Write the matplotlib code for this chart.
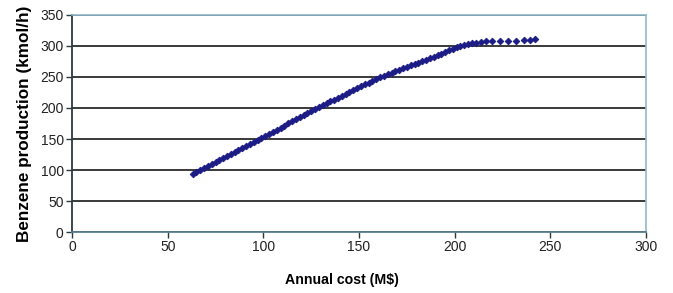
import matplotlib
matplotlib.use("Agg")
import matplotlib.pyplot as plt

annual_cost = [63, 65, 67, 69, 71, 73, 75, 77, 79, 81, 83, 85, 87, 89, 91, 93, 95, 97,
               99, 101, 103, 105, 107, 109, 111, 113, 115, 117, 119, 121, 123, 125, 127,
               129, 131, 133, 135, 137, 139, 141, 143, 145, 147, 149, 151, 153, 155, 157, 159, 161,
               163, 165, 167, 169, 171, 173, 175, 177, 179, 181, 183, 185,
               187, 189, 191, 193, 195, 197, 199, 201, 203, 205, 207,
               209.0, 211.0, 213.5, 216.5, 219.5, 223.7, 228.0, 232.0, 236.3, 239.5, 242.0]
benzene = [93, 96.3, 99.5, 102.8, 106.0, 109.3, 112.5, 115.8, 119.1, 122.3, 125.6, 128.8, 132.1, 135.3, 138.6, 141.9, 145.1, 148.4,
           151.7, 155, 158.3, 161.7, 165, 168.3, 171.7, 175, 178.3, 181.7, 185, 188.3, 191.7, 195, 198.3,
           201.5, 204.5, 207.6, 210.6, 213.6, 216.7, 219.7, 222.7, 225.8, 228.8, 231.8, 234.8, 237.9, 240.9, 243.9, 247, 250,
           252.3, 254.7, 257, 259.3, 261.7, 264, 266.3, 268.7, 271, 273.3, 275.7, 278,
           280.4, 282.9, 285.3, 287.8, 290.2, 292.7, 295.1, 297.6, 300, 301.5, 303,
           304.5, 305.5, 306.5, 307.5, 307.5, 308.0, 308.5, 308.5, 309.5, 310.0, 311.5]

x_ticks = [0, 50, 100, 150, 200, 250, 300]
y_ticks = [0, 50, 100, 150, 200, 250, 300, 350]

plt.rcParams['font.family'] = ['Liberation Sans', 'DejaVu Sans']

fig = plt.figure(figsize=(6.73, 2.93), dpi=100)
ax = fig.add_axes([0.107, 0.208, 0.853, 0.741])

ax.set_xlim(0, 300)
ax.set_ylim(0, 350)
ax.set_xticks(x_ticks)
ax.set_yticks(y_ticks)
ax.yaxis.grid(True, color='#2b2b2b', linewidth=1.3)
ax.set_axisbelow(True)

ax.plot(annual_cost, benzene, linestyle='none', marker='D', markersize=3.4,
        color='#1c1c86', markeredgecolor='#1c1c86', markeredgewidth=0.6, zorder=3)

for s in ['top', 'right']:
    ax.spines[s].set_color('#8fb8cc')
    ax.spines[s].set_linewidth(1.2)
ax.spines['left'].set_color('#2b3a40')
ax.spines['left'].set_linewidth(1.3)
ax.spines['bottom'].set_color('#5a7f90')
ax.spines['bottom'].set_linewidth(1.3)

ax.tick_params(axis='both', direction='out', length=4, width=1, color='#2b3a40',
               labelsize=10, labelcolor='#222222', pad=2)

ax.set_xlabel('Annual cost (M$)', fontsize=10.2, fontweight='bold')
ax.xaxis.set_label_coords(0.47, -0.19)
ax.set_ylabel('Benzene production (kmol/h)', fontsize=12.3, fontweight='bold')
ax.yaxis.set_label_coords(-0.07, 0.5)

fig.savefig('out.png', dpi=100)
